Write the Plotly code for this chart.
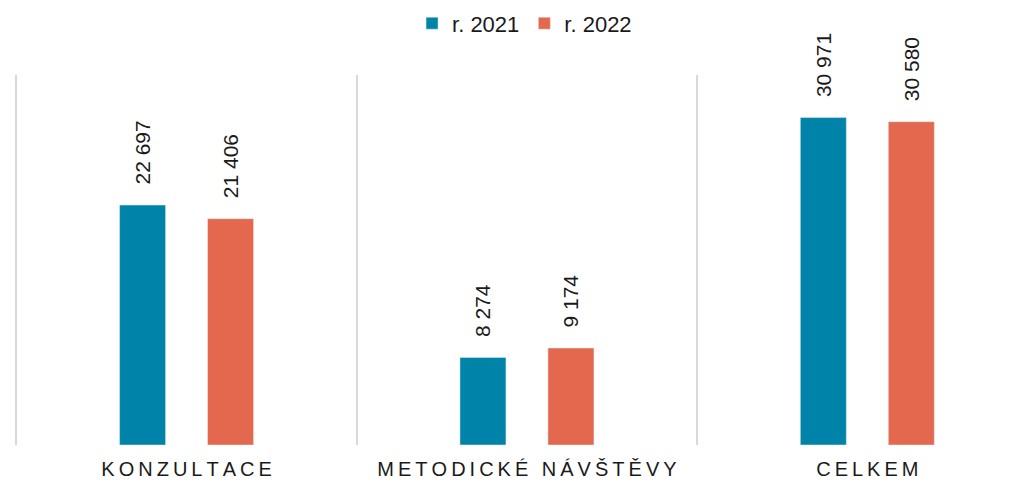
import plotly.graph_objects as go

categories = ["KONZULTACE", "METODICKÉ NÁVŠTĚVY", "CELKEM"]
series_names = ["r. 2021", "r. 2022"]
values_2021 = [22697, 8274, 30971]
values_2022 = [21406, 9174, 30580]
colors = ["#0083A9", "#E3684D"]

def spaced(s):
    return "\u2009".join(s)

tick_text = [spaced(c) for c in categories]

fig = go.Figure()
for name, vals, col in zip(series_names, [values_2021, values_2022], colors):
    fig.add_trace(go.Bar(
        name=name, x=categories, y=vals, marker_color=col,
        texttemplate="\u00a0\u00a0\u00a0%{y:,}", textposition="outside",
        textangle=-90, cliponaxis=False, constraintext="none",
        textfont=dict(size=21, color="#1a1a1a", family="Liberation Sans, Arial"),
    ))

fig.update_layout(
    width=1021, height=483,
    margin=dict(l=14, r=0, t=75, b=38, autoexpand=False),
    barmode="group", bargap=0.483, bargroupgap=0.477,
    separators=", ",
    plot_bgcolor="white", paper_bgcolor="white",
    font=dict(family="Liberation Sans, Arial", size=20, color="#1a1a1a"),
    legend=dict(orientation="h", x=0.507, xanchor="center", y=0.995, yanchor="top",
                yref="container", font=dict(size=22), itemwidth=30),
    showlegend=True,
)
fig.update_xaxes(type="category", range=[-0.507, 2.4515], tickson="boundaries",
                 showgrid=True, gridcolor="#D9D9D9", gridwidth=2,
                 tickvals=categories, ticktext=tick_text, ticks="",
                 ticklabelstandoff=10, automargin=False,
                 showline=False, zeroline=False, tickfont=dict(size=20))
fig.update_yaxes(range=[0, 35000], visible=False)

fig.write_html("out.html", config={"displayModeBar": False},
               post_script="document.body.style.margin='0';document.body.style.overflow='hidden';")
